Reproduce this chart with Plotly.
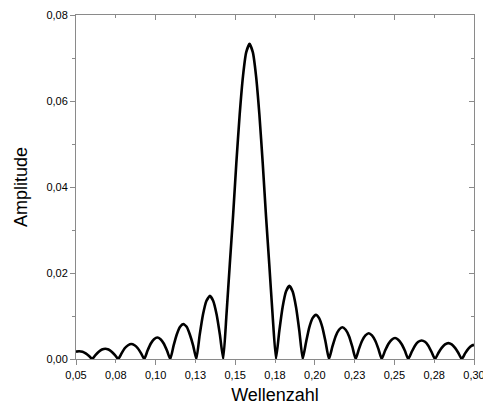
import plotly.graph_objects as go

# Wellenzahl (x) and Amplitude (y)
wellenzahl = [
    0.0500, 0.0520, 0.0541, 0.0561, 0.0582, 0.0602,
    0.0622, 0.0643, 0.0663, 0.0684, 0.0704, 0.0724, 0.0745, 0.0765,
    0.0786, 0.0806, 0.0827, 0.0847, 0.0868, 0.0888, 0.0909, 0.0929,
    0.0949, 0.0970, 0.0990, 0.1011, 0.1031, 0.1051, 0.1072, 0.1092,
    0.1113, 0.1133, 0.1154, 0.1174, 0.1195, 0.1215, 0.1236, 0.1256,
    0.1277, 0.1298, 0.1319, 0.1341, 0.1362, 0.1383, 0.1404, 0.1425,
    0.1445, 0.1466, 0.1487, 0.1507, 0.1528, 0.1549, 0.1569, 0.1590,
    0.1611, 0.1631, 0.1652, 0.1673, 0.1693, 0.1714, 0.1735, 0.1756,
    0.1777, 0.1798, 0.1819, 0.1840, 0.1861, 0.1882, 0.1903, 0.1924,
    0.1945, 0.1965, 0.1986, 0.2007, 0.2027, 0.2048, 0.2068, 0.2089,
    0.2110, 0.2131, 0.2152, 0.2173, 0.2194, 0.2215, 0.2236, 0.2257,
    0.2277, 0.2298, 0.2318, 0.2339, 0.2359, 0.2379, 0.2400, 0.2420,
    0.2441, 0.2462, 0.2483, 0.2504, 0.2524, 0.2545, 0.2566, 0.2587,
    0.2608, 0.2629, 0.2650, 0.2671, 0.2692, 0.2713, 0.2734, 0.2755,
    0.2776, 0.2797, 0.2818, 0.2839, 0.2860, 0.2881, 0.2902, 0.2923,
    0.2944, 0.2965, 0.2986, 0.3000,
]
amplitude = [
    0.0017, 0.0018, 0.0017, 0.0013, 0.0007, 0.0000,
    0.0009, 0.0017, 0.0022, 0.0024, 0.0022, 0.0017, 0.0009, 0.0000,
    0.0013, 0.0025, 0.0032, 0.0035, 0.0032, 0.0025, 0.0013, 0.0000,
    0.0019, 0.0036, 0.0046, 0.0050, 0.0046, 0.0036, 0.0019, 0.0000,
    0.0031, 0.0057, 0.0075, 0.0081, 0.0075, 0.0057, 0.0031, 0.0000,
    0.0056, 0.0104, 0.0135, 0.0147, 0.0135, 0.0104, 0.0056, 0.0000,
    0.0102, 0.0220, 0.0335, 0.0455, 0.0568, 0.0658, 0.0713, 0.0733,
    0.0713, 0.0658, 0.0568, 0.0455, 0.0335, 0.0220, 0.0102, 0.0000,
    0.0065, 0.0121, 0.0157, 0.0170, 0.0157, 0.0121, 0.0065, 0.0000,
    0.0039, 0.0073, 0.0095, 0.0103, 0.0095, 0.0073, 0.0039, 0.0000,
    0.0028, 0.0053, 0.0068, 0.0074, 0.0068, 0.0053, 0.0028, 0.0000,
    0.0023, 0.0043, 0.0055, 0.0060, 0.0055, 0.0043, 0.0023, 0.0000,
    0.0019, 0.0035, 0.0045, 0.0049, 0.0045, 0.0035, 0.0019, 0.0000,
    0.0016, 0.0031, 0.0040, 0.0043, 0.0040, 0.0031, 0.0016, 0.0000,
    0.0014, 0.0026, 0.0034, 0.0037, 0.0034, 0.0026, 0.0014, 0.0000,
    0.0013, 0.0024, 0.0031, 0.0033,
]

x_tickvals = [0.05, 0.075, 0.10, 0.125, 0.15, 0.175, 0.20, 0.225, 0.25, 0.275, 0.30]
x_ticktext = ["0,05", "0,08", "0,10", "0,13", "0,15", "0,18", "0,20", "0,23", "0,25", "0,28", "0,30"]
x_major_vals = [0.05, 0.10, 0.15, 0.20, 0.25, 0.30]
y_tickvals = [0.00, 0.02, 0.04, 0.06, 0.08]
y_ticktext = ["0,00", "0,02", "0,04", "0,06", "0,08"]

AX = "#8a8a8a"
FONT = "Liberation Sans, Arial, sans-serif"
XR = [0.05, 0.30]
YR = [0.0, 0.08]

fig = go.Figure()
fig.add_trace(go.Scatter(x=wellenzahl, y=amplitude, mode="lines",
                         line=dict(color="black", width=2.6, shape="spline", smoothing=0.5),
                         showlegend=False, hoverinfo="skip", cliponaxis=True))
# invisible helpers so the overlay axes are drawn
fig.add_trace(go.Scatter(x=[None], y=[None], xaxis="x2", yaxis="y", showlegend=False))
fig.add_trace(go.Scatter(x=[None], y=[None], xaxis="x3", yaxis="y2", showlegend=False))

fig.update_layout(
    width=483, height=405,
    margin=dict(l=76, r=9, t=15, b=46),
    paper_bgcolor="white", plot_bgcolor="white",
    font=dict(family=FONT, color="black", size=11),
    xaxis=dict(
        range=XR, showgrid=False, zeroline=False,
        showline=True, linecolor=AX, linewidth=1, mirror=True,
        tickmode="array", tickvals=x_tickvals, ticktext=x_ticktext,
        ticks="outside", ticklen=3, tickwidth=1, tickcolor=AX,
        ticklabeloverflow="allow", ticklabelstandoff=3,
        tickfont=dict(size=11, family=FONT, color="black"),
        title=dict(text="Wellenzahl", font=dict(size=18, family=FONT), standoff=18),
        automargin=False,
    ),
    xaxis2=dict(
        range=XR, overlaying="x", anchor="y", side="bottom",
        showgrid=False, zeroline=False, showline=False,
        tickmode="array", tickvals=x_major_vals, showticklabels=False,
        ticks="outside", ticklen=5, tickwidth=1, tickcolor=AX,
    ),
    xaxis3=dict(
        range=XR, overlaying="x", anchor="y2", side="top",
        showgrid=False, zeroline=False, showline=False,
        tickmode="linear", tick0=0.05, dtick=0.05, showticklabels=False,
        ticks="inside", ticklen=5, tickwidth=1, tickcolor=AX,
        minor=dict(tickmode="linear", tick0=0.05, dtick=0.025, ticks="inside",
                   ticklen=3, tickcolor=AX, showgrid=False),
    ),
    yaxis=dict(
        range=YR, showgrid=False, zeroline=False,
        showline=True, linecolor=AX, linewidth=1, mirror=True,
        tickmode="array", tickvals=y_tickvals, ticktext=y_ticktext,
        ticks="outside", ticklen=5, tickwidth=1, tickcolor=AX,
        minor=dict(tickmode="linear", tick0=0, dtick=0.01, ticks="outside",
                   ticklen=3, tickcolor=AX, showgrid=False),
        tickfont=dict(size=11, family=FONT, color="black"),
        title=dict(text="Amplitude", font=dict(size=18, family=FONT), standoff=14),
        automargin=False,
    ),
    yaxis2=dict(
        range=YR, overlaying="y", anchor="x3", side="right",
        showgrid=False, zeroline=False, showline=False,
        tickmode="linear", tick0=0, dtick=0.02, showticklabels=False,
        ticks="inside", ticklen=5, tickwidth=1, tickcolor=AX,
        minor=dict(tickmode="linear", tick0=0, dtick=0.01, ticks="inside",
                   ticklen=3, tickcolor=AX, showgrid=False),
    ),
)

fig.write_html("out.html")
